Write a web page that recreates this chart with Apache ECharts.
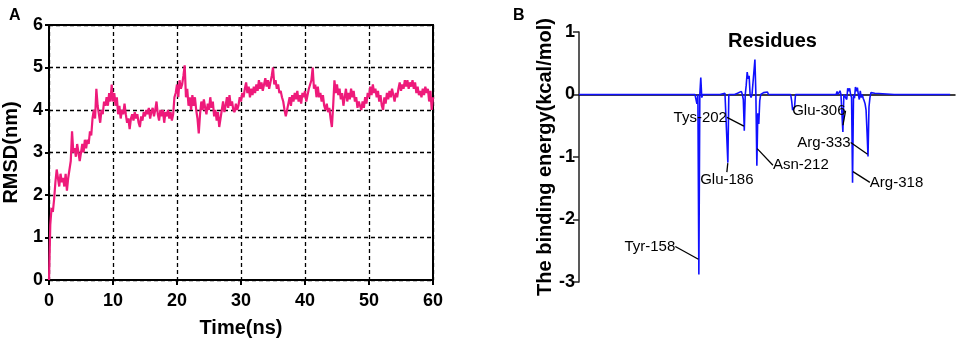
<!DOCTYPE html>
<html>
<head>
<meta charset="utf-8">
<script src="https://cdn.jsdelivr.net/npm/echarts@6/dist/echarts.min.js"></script>
<style>
    html, body { margin: 0; padding: 0; background: #ffffff; }
    #chart { width: 957px; height: 343px; }
</style>
</head>
<body>
<div id="chart"></div>
<script>
// Panel A: RMSD sampled every 0.2 ns from 0 to 60 ns
var rmsdStep = 0.2;
var rmsdValues = [
    0, 1.3, 1.7, 1.6, 1.9,
    2.3, 2.6, 2.4, 2.2, 2.5,
    2.3, 2.4, 2.2, 2.5, 2.1,
    2.4, 2.6, 2.8, 3.5, 3.0,
    3.1, 2.9, 3.2, 3.0, 2.8,
    3.0, 3.2, 3.0, 3.3, 3.1,
    3.3, 3.2, 3.5, 3.4, 3.8,
    4.0, 3.8, 4.5, 4.1, 3.9,
    3.7, 4.0, 3.9, 4.2, 4.1,
    4.3, 4.1, 4.4, 4.2, 4.6,
    4.2, 4.4, 4.1, 4.3, 3.9,
    4.1, 3.8, 4.0, 3.9, 4.15,
    3.9, 3.7, 3.8, 3.55, 3.8,
    3.9, 3.75, 3.95, 3.8, 3.9,
    3.7, 3.6, 3.85, 3.75, 3.95,
    3.85, 4.0, 3.9, 4.05, 3.8,
    3.95, 4.05, 3.85, 4.0, 4.2,
    3.9, 3.75, 4.0, 3.85, 4.0,
    3.7, 3.95, 3.85, 4.0, 3.8,
    3.95, 3.75, 3.9, 4.3, 4.4,
    4.6, 4.3, 4.7, 4.5, 4.6,
    4.8, 5.05, 4.3, 4.5, 4.1,
    4.3, 4.0, 4.35, 4.1, 4.3,
    4.0, 3.8, 3.45, 3.9, 4.2,
    4.0, 4.25, 4.05, 3.9, 4.15,
    4.0, 4.3, 4.05, 4.2, 3.85,
    4.0, 3.75, 3.95, 3.6, 3.8,
    4.0, 4.2, 3.95, 4.1, 4.3,
    4.05, 4.35, 4.1, 4.2, 4.0,
    3.95, 4.15, 4.0, 4.1, 4.3,
    4.2, 4.4, 4.3, 4.5, 4.65,
    4.4, 4.55, 4.3, 4.5, 4.35,
    4.55, 4.4, 4.6, 4.45, 4.7,
    4.5, 4.65, 4.45, 4.6, 4.75,
    4.55, 4.7, 4.5, 4.65, 4.8,
    5.0, 4.6, 4.7, 4.5, 4.6,
    4.4, 4.45, 4.3, 4.2, 4.0,
    3.85, 4.0, 4.15, 4.3, 4.1,
    4.35, 4.2, 4.4, 4.25, 4.45,
    4.2, 4.35, 4.15, 4.4, 4.3,
    4.45, 4.2, 4.35, 4.5, 4.6,
    4.7, 5.0, 4.5, 4.6, 4.3,
    4.55, 4.3, 4.4, 4.2, 4.35,
    4.1, 4.0, 4.15, 3.95, 4.05,
    3.8, 3.6, 4.1, 4.7, 4.4,
    4.6, 4.35, 4.5, 4.25, 4.4,
    4.1, 4.3, 4.5, 4.2, 4.4,
    4.25, 4.5, 4.3, 4.45, 4.2,
    4.3, 4.05, 4.2, 4.1, 4.0,
    4.2, 4.05, 4.3, 4.15, 4.4,
    4.3, 4.55, 4.35, 4.6, 4.4,
    4.5, 4.3, 4.45, 4.2, 4.35,
    4.1, 4.0, 4.3, 4.15, 4.4,
    4.25, 4.45, 4.3, 4.5, 4.35,
    4.2, 4.4, 4.3, 4.5, 4.65,
    4.45, 4.6, 4.5, 4.7, 4.55,
    4.7, 4.5, 4.65, 4.55, 4.7,
    4.5, 4.65, 4.4, 4.55, 4.35,
    4.45, 4.3, 4.5, 4.35, 4.55,
    4.4, 4.5, 4.2, 4.45, 4.0,
    4.3
];

// Panel B: per-residue binding energy (kcal/mol)
var residues = [
    34, 100, 154, 156, 157, 158, 159, 160, 161, 162,
    180, 181, 182, 185, 186, 187, 188, 189, 190, 191, 192, 194, 195, 198, 199,
    202, 203, 204, 205, 206, 207, 208, 209, 210, 211, 212, 213, 215, 216, 217,
    218, 219, 220, 221, 222, 225, 226, 229, 230,
    253, 254, 255, 256, 257, 258,
    300, 301, 302, 304, 305, 306, 307, 308, 310, 311, 312, 313, 314, 315, 316,
    317, 318, 319, 320, 321, 322, 323, 324, 325, 326, 327, 328, 329, 330, 331,
    332, 333, 334, 335, 336, 337, 340, 341, 360, 418
];
var energies = [
    0, 0, 0, -0.15, 0, -2.88, 0, 0.27, -0.05, 0,
    0, 0.03, 0, 0.02, 0, 0, -1.09, 0, -0.03, 0.02, 0, 0.03, 0, 0.02, 0,
    0.05, 0, -0.08, -0.58, 0, 0.15, 0.36, 0.25, 0.3, 0, -0.05, 0, 0, 0.56, 0,
    -1.14, -0.3, -0.47, -0.1, 0, 0.03, 0, 0.04, 0,
    0, -0.1, -0.25, -0.28, -0.2, 0,
    0, 0.05, 0, 0.06, 0, -0.3, -0.6, 0, 0.03, -0.08, 0.1, 0.05, 0.1, 0, -0.05,
    -1.41, 0, -0.06, 0.12, 0.05, 0.11, 0, -0.08, 0.06, -0.05, 0, -0.06, -0.1, -0.15, -0.25,
    -0.6, -0.99, -0.2, -0.05, 0.03, 0, 0.02, 0, 0, 0
];

// labelled residues: anchor on the spike and label offset
var hotNames = ['Tyr-158', 'Glu-186', 'Tys-202', 'Asn-212', 'Glu-306', 'Arg-318', 'Arg-333'];
var hotResidues = [158, 188, 205, 218, 307, 317, 333];
var hotEnergies = [-2.64, -1.09, -0.51, -0.86, -0.5, -1.23, -0.96];
var hotLabelDx = [-49, -1, -44, 44, -24, 44, -44];
var hotLabelDy = [-13, 17, -9, 17, -15, 11, -12];

var FONT = '"Liberation Sans", Arial, sans-serif';

function buildRmsdData() {
    var data = [];
    for (var i = 0; i < rmsdValues.length; i++) {
        data.push([+(i * rmsdStep).toFixed(1), rmsdValues[i]]);
    }
    return data;
}

function buildEnergyData() {
    var data = [];
    for (var i = 0; i < residues.length; i++) {
        data.push([residues[i], energies[i]]);
    }
    return data;
}

function buildHotData() {
    var data = [];
    for (var i = 0; i < hotNames.length; i++) {
        data.push({ name: hotNames[i], value: [hotResidues[i], hotEnergies[i]] });
    }
    return data;
}

var chartDom = echarts.init(document.getElementById('chart'), null, { renderer: 'canvas' });

var boldLabel = { color: '#000', fontFamily: FONT, fontWeight: 'bold', fontSize: 18 };
var nameStyle = { color: '#000', fontFamily: FONT, fontWeight: 'bold', fontSize: 20 };

var chartOptions = {
    animation: false,
    backgroundColor: '#ffffff',
    title: [
        { text: 'A', left: 4, top: 3, textStyle: { fontFamily: FONT, fontWeight: 'bold', fontSize: 16, color: '#000' } },
        { text: 'B', left: 508, top: 3, textStyle: { fontFamily: FONT, fontWeight: 'bold', fontSize: 16, color: '#000' } },
        { text: 'Residues', left: 723, top: 26, textStyle: { fontFamily: FONT, fontWeight: 'bold', fontSize: 20, color: '#000' } }
    ],
    grid: [
        { left: 49, top: 25, width: 384, height: 256, show: true, borderColor: '#000', borderWidth: 2, backgroundColor: 'transparent' },
        { left: 579, top: 32, width: 376, height: 250 }
    ],
    xAxis: [
        {
            gridIndex: 0,
            type: 'value',
            min: 0,
            max: 60,
            interval: 10,
            name: 'Time(ns)',
            nameLocation: 'middle',
            nameGap: 38,
            nameTextStyle: nameStyle,
            axisLine: { lineStyle: { color: '#000', width: 2 } },
            axisTick: { show: true, length: 5, lineStyle: { color: '#000', width: 2 } },
            axisLabel: Object.assign({ margin: 12 }, boldLabel),
            splitLine: { show: true, lineStyle: { color: '#000', type: [4, 3], width: 1.3 } }
        },
        {
            gridIndex: 1,
            type: 'value',
            min: 34,
            max: 423,
            axisLine: { show: true, onZero: true, lineStyle: { color: '#000', width: 1.5 } },
            axisTick: { show: false },
            axisLabel: { show: false },
            splitLine: { show: false }
        }
    ],
    yAxis: [
        {
            gridIndex: 0,
            type: 'value',
            min: 0,
            max: 6,
            interval: 1,
            name: 'RMSD(nm)',
            nameLocation: 'middle',
            nameGap: 28,
            nameTextStyle: nameStyle,
            axisLine: { lineStyle: { color: '#000', width: 2 } },
            axisTick: { show: true, length: 4, lineStyle: { color: '#000', width: 2 } },
            axisLabel: Object.assign({ margin: 6 }, boldLabel),
            splitLine: { show: true, lineStyle: { color: '#000', type: [4, 3], width: 1.3 } }
        },
        {
            gridIndex: 1,
            type: 'value',
            min: -3,
            max: 1,
            interval: 1,
            name: 'The binding energy(kcal/mol)',
            nameLocation: 'middle',
            nameGap: 24,
            nameTextStyle: nameStyle,
            axisLine: { show: true, lineStyle: { color: '#222', width: 1.5 } },
            axisTick: { show: true, length: 6, lineStyle: { color: '#222', width: 1.5 } },
            axisLabel: Object.assign({ margin: 4 }, boldLabel),
            splitLine: { show: false }
        }
    ],
    series: [
        {
            type: 'line',
            xAxisIndex: 0,
            yAxisIndex: 0,
            data: buildRmsdData(),
            showSymbol: false,
            lineStyle: { color: '#ee1a7a', width: 2.2 },
            z: 3
        },
        {
            type: 'line',
            xAxisIndex: 1,
            yAxisIndex: 1,
            data: buildEnergyData(),
            showSymbol: false,
            lineStyle: { color: '#1010ff', width: 1.6 },
            z: 3
        },
        {
            type: 'scatter',
            xAxisIndex: 1,
            yAxisIndex: 1,
            data: buildHotData(),
            symbolSize: 1,
            itemStyle: { color: 'rgba(0,0,0,0)' },
            label: {
                show: true,
                position: 'inside',
                formatter: '{b}',
                fontFamily: FONT,
                fontSize: 15,
                color: '#000',
                textBorderWidth: 0,
                opacity: 1
            },
            labelLine: { show: true, lineStyle: { color: '#000', width: 1.3, opacity: 1 } },
            labelLayout: function (params) {
                var i = params.dataIndex;
                return { dx: hotLabelDx[i], dy: hotLabelDy[i] };
            },
            z: 4
        }
    ]
};

chartDom.setOption(chartOptions, true);
window.onresize = function () {
    chartDom.resize();
};
</script>
</body>
</html>
